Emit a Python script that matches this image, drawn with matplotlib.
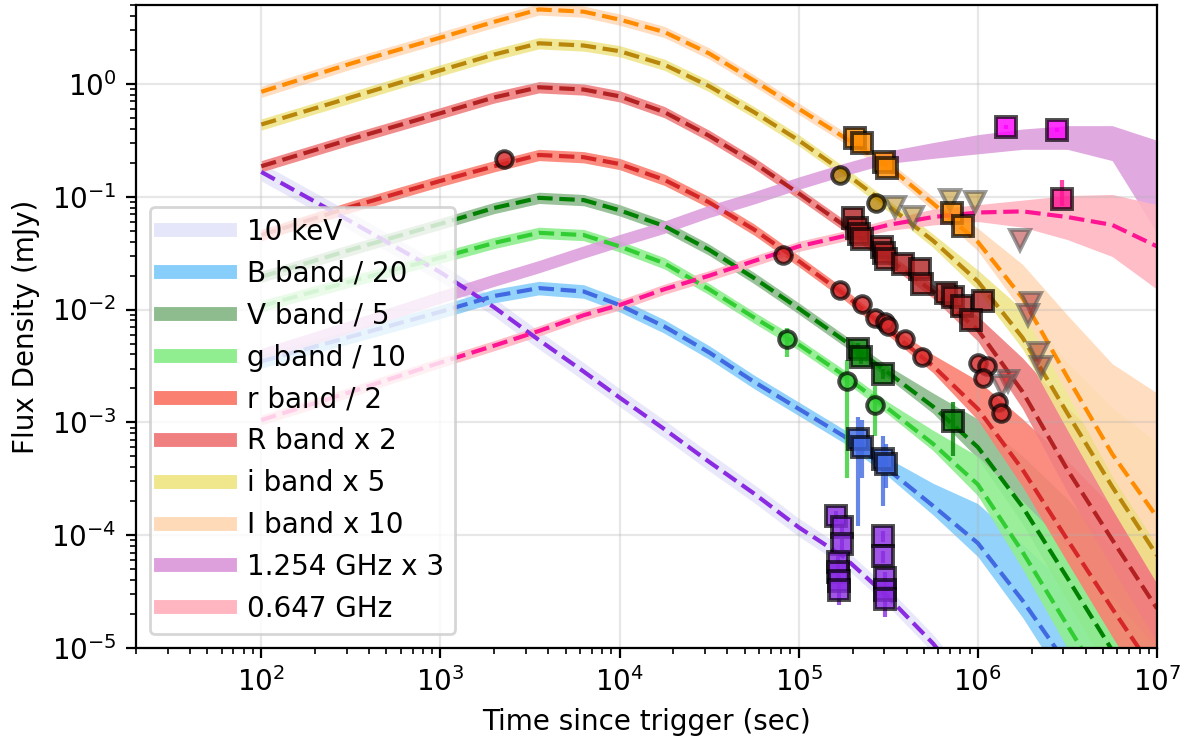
import numpy as np
import matplotlib
matplotlib.use('Agg')
import matplotlib.pyplot as plt
from matplotlib.lines import Line2D

# ---- model curves (log10 time [s], log10 flux [mJy]) ----
log_t = [2.0, 2.5, 3.0, 3.3, 3.55, 3.8, 4.0, 4.25, 4.5, 4.75, 5.0, 5.25, 5.5, 5.75, 6.0, 6.25, 6.5, 6.75, 7.0]
log_t_xray = [2.0, 2.5, 3.0, 3.3, 3.55, 3.8, 4.0, 4.25, 4.5, 4.75, 5.0, 5.25, 5.5, 5.75, 6.0]

xray_med = [-0.78, -1.22, -1.67, -1.98, -2.27, -2.55, -2.78, -3.06, -3.35, -3.63, -3.93, -4.19, -4.55, -4.96, -5.45]
xray_up = [0.08, 0.08, 0.08, 0.08, 0.08, 0.08, 0.08, 0.08, 0.08, 0.08, 0.08, 0.08, 0.08, 0.08, 0.08]
xray_dn = [0.08, 0.08, 0.08, 0.08, 0.08, 0.08, 0.08, 0.08, 0.08, 0.08, 0.08, 0.08, 0.08, 0.08, 0.08]

B_med = [-2.46, -2.24, -2.02, -1.88, -1.81, -1.84, -1.96, -2.15, -2.38, -2.64, -2.88, -3.12, -3.42, -3.74, -4.07, -4.58, -5.15, -5.80, -6.50]
B_up = [0.06, 0.06, 0.06, 0.06, 0.06, 0.06, 0.06, 0.06, 0.06, 0.06, 0.06, 0.06, 0.10, 0.20, 0.35, 0.50, 0.70, 0.90, 1.10]
B_dn = [0.06, 0.06, 0.06, 0.06, 0.06, 0.06, 0.06, 0.06, 0.06, 0.06, 0.06, 0.06, 0.06, 0.08, 0.12, 0.15, 0.20, 0.25, 0.30]

V_med = [-1.71, -1.47, -1.24, -1.10, -1.01, -1.03, -1.12, -1.26, -1.47, -1.72, -1.99, -2.27, -2.56, -2.86, -3.22, -3.75, -4.38, -5.02, -5.70]
V_up = [0.05, 0.05, 0.05, 0.05, 0.05, 0.05, 0.05, 0.05, 0.05, 0.05, 0.05, 0.05, 0.06, 0.12, 0.25, 0.45, 0.70, 0.90, 1.10]
V_dn = [0.05, 0.05, 0.05, 0.05, 0.05, 0.05, 0.05, 0.05, 0.05, 0.05, 0.05, 0.05, 0.05, 0.06, 0.10, 0.15, 0.20, 0.25, 0.30]

g_med = [-1.97, -1.75, -1.54, -1.41, -1.32, -1.34, -1.44, -1.59, -1.82, -2.07, -2.31, -2.58, -2.88, -3.19, -3.55, -4.15, -4.80, -5.45, -6.10]
g_up = [0.05, 0.05, 0.05, 0.05, 0.05, 0.05, 0.05, 0.05, 0.05, 0.05, 0.05, 0.05, 0.06, 0.12, 0.25, 0.45, 0.70, 0.90, 1.10]
g_dn = [0.05, 0.05, 0.05, 0.05, 0.05, 0.05, 0.05, 0.05, 0.05, 0.05, 0.05, 0.05, 0.05, 0.06, 0.10, 0.15, 0.20, 0.25, 0.30]

r_med = [-1.34, -1.09, -0.86, -0.73, -0.63, -0.65, -0.71, -0.85, -1.05, -1.29, -1.57, -1.86, -2.18, -2.50, -2.88, -3.42, -4.04, -4.65, -5.24]
r_up = [0.05, 0.05, 0.05, 0.05, 0.05, 0.05, 0.05, 0.05, 0.05, 0.05, 0.05, 0.05, 0.05, 0.10, 0.25, 0.45, 0.70, 0.90, 1.10]
r_dn = [0.05, 0.05, 0.05, 0.05, 0.05, 0.05, 0.05, 0.05, 0.05, 0.05, 0.05, 0.05, 0.05, 0.06, 0.10, 0.15, 0.20, 0.25, 0.30]

R_med = [-0.73, -0.49, -0.26, -0.12, -0.03, -0.05, -0.11, -0.25, -0.46, -0.70, -0.97, -1.25, -1.55, -1.84, -2.18, -2.73, -3.42, -4.04, -4.65]
R_up = [0.05, 0.05, 0.05, 0.05, 0.05, 0.05, 0.05, 0.05, 0.05, 0.05, 0.05, 0.05, 0.05, 0.06, 0.12, 0.30, 0.55, 0.80, 1.00]
R_dn = [0.05, 0.05, 0.05, 0.05, 0.05, 0.05, 0.05, 0.05, 0.05, 0.05, 0.05, 0.05, 0.05, 0.06, 0.10, 0.15, 0.20, 0.25, 0.30]

i_med = [-0.36, -0.12, 0.12, 0.26, 0.36, 0.34, 0.29, 0.17, -0.02, -0.25, -0.50, -0.78, -1.08, -1.39, -1.75, -2.25, -2.92, -3.57, -4.18]
i_up = [0.05, 0.05, 0.05, 0.05, 0.05, 0.05, 0.05, 0.05, 0.05, 0.05, 0.05, 0.05, 0.05, 0.06, 0.10, 0.25, 0.45, 0.70, 1.00]
i_dn = [0.05, 0.05, 0.05, 0.05, 0.05, 0.05, 0.05, 0.05, 0.05, 0.05, 0.05, 0.05, 0.05, 0.06, 0.08, 0.10, 0.15, 0.20, 0.25]

I_med = [-0.07, 0.18, 0.41, 0.55, 0.66, 0.64, 0.57, 0.46, 0.27, 0.03, -0.22, -0.47, -0.73, -1.06, -1.40, -1.90, -2.60, -3.28, -3.84]
I_up = [0.05, 0.05, 0.05, 0.05, 0.05, 0.05, 0.05, 0.05, 0.05, 0.05, 0.05, 0.05, 0.05, 0.06, 0.12, 0.30, 0.55, 0.80, 1.10]
I_dn = [0.05, 0.05, 0.05, 0.05, 0.05, 0.05, 0.05, 0.05, 0.05, 0.05, 0.05, 0.05, 0.05, 0.06, 0.08, 0.12, 0.15, 0.20, 0.25]

L_med = [-2.40, -2.15, -1.89, -1.74, -1.62, -1.49, -1.39, -1.27, -1.13, -1.01, -0.88, -0.76, -0.65, -0.58, -0.52, -0.48, -0.45, -0.47, -0.89]
L_up = [0.055, 0.055, 0.055, 0.055, 0.055, 0.055, 0.055, 0.055, 0.055, 0.055, 0.055, 0.055, 0.055, 0.06, 0.07, 0.08, 0.08, 0.10, 0.39]
L_dn = [0.055, 0.055, 0.055, 0.055, 0.055, 0.055, 0.055, 0.055, 0.055, 0.055, 0.055, 0.055, 0.055, 0.08, 0.10, 0.10, 0.13, 0.21, 0.43]

P_med = [-2.98, -2.73, -2.47, -2.32, -2.19, -2.05, -1.96, -1.82, -1.70, -1.57, -1.44, -1.35, -1.25, -1.18, -1.14, -1.13, -1.18, -1.25, -1.44]
P_up = [0.045, 0.045, 0.045, 0.045, 0.045, 0.045, 0.045, 0.045, 0.045, 0.045, 0.045, 0.045, 0.05, 0.07, 0.07, 0.10, 0.19, 0.27, 0.37]
P_dn = [0.045, 0.045, 0.045, 0.045, 0.045, 0.045, 0.045, 0.045, 0.045, 0.045, 0.045, 0.045, 0.05, 0.07, 0.08, 0.14, 0.20, 0.28, 0.38]

# ---- observations (s, mJy) ----
X_t = [1.61e5, 1.75e5, 1.75e5, 1.66e5, 1.66e5, 1.68e5, 1.68e5, 2.96e5, 2.96e5, 3.04e5, 3.04e5, 3.04e5]
X_f = [1.47e-4, 1.18e-4, 8.3e-5, 5.8e-5, 4.7e-5, 3.9e-5, 3.3e-5, 9.8e-5, 6.5e-5, 4.2e-5, 3.3e-5, 2.7e-5]
X_lo = [1.3e-4, 1.05e-4, 7.4e-5, 5.1e-5, 4.1e-5, 3.3e-5, 2.4e-5, 8.7e-5, 5.7e-5, 3.7e-5, 2.9e-5, 1.9e-5]
X_hi = [1.65e-4, 1.32e-4, 9.3e-5, 6.5e-5, 5.3e-5, 4.4e-5, 3.7e-5, 1.1e-4, 7.3e-5, 4.7e-5, 3.7e-5, 3.0e-5]

B_t = [2.14e5, 2.26e5, 2.96e5, 3.08e5]
B_f = [7.1e-4, 6.1e-4, 4.7e-4, 4.3e-4]
B_lo = [1.2e-4, 3.2e-4, 1.8e-4, 2.6e-4]
B_hi = [1.12e-3, 1.05e-3, 7.6e-4, 6.4e-4]

V_t = [2.14e5, 2.23e5, 2.96e5, 7.3e5]
V_f = [4.43e-3, 3.76e-3, 2.66e-3, 1.02e-3]
V_lo = [3.8e-3, 3.3e-3, 2.4e-3, 5.0e-4]
V_hi = [5.1e-3, 4.3e-3, 3.0e-3, 1.53e-3]

g_t = [8.6e4, 1.86e5, 2.67e5]
g_f = [5.43e-3, 2.35e-3, 1.44e-3]
g_lo = [3.8e-3, 3.2e-4, 7.6e-4]
g_hi = [6.9e-3, 3.6e-3, 2.1e-3]

r_t = [2.26e3, 8.2e4, 1.70e5, 2.26e5, 2.67e5, 3.04e5, 3.16e5, 3.94e5, 4.9e5, 9.96e5, 1.13e6, 1.07e6, 1.29e6, 1.34e6]
r_f = [0.217, 0.0307, 0.0150, 0.0111, 0.0085, 0.0078, 0.0071, 0.0055, 0.00376, 0.00333, 0.00319, 0.00245, 0.00153, 0.00122]
r_ul_t = [1.48e6, 1.37e6]
r_ul_f = [0.00231, 0.00208]

R_t = [2.01e5, 2.12e5, 2.17e5, 2.26e5, 2.92e5, 3.0e5, 3.08e5, 3.83e5, 4.77e5, 4.9e5, 6.6e5, 7.3e5, 8.2e5, 1.07e6, 9.1e5]
R_f = [0.0652, 0.0532, 0.0471, 0.0425, 0.0361, 0.0319, 0.0283, 0.0255, 0.0231, 0.0170, 0.0141, 0.0130, 0.0108, 0.0118, 0.0080]
R_ul_t = [1.73e6, 1.97e6, 1.9e6, 2.16e6, 2.24e6]
R_ul_f = [0.0416, 0.0115, 0.0090, 0.00416, 0.00307]

i_t = [1.7e5, 2.7e5]
i_f = [0.157, 0.0885]
i_ul_t = [3.46e5, 4.36e5, 7.0e5, 9.7e5]
i_ul_f = [0.0816, 0.0665, 0.094, 0.090]

I_t = [2.07e5, 2.26e5, 3.0e5, 3.12e5, 7.2e5, 8.3e5]
I_f = [0.333, 0.30, 0.204, 0.181, 0.072, 0.055]

L_t = [1.43e6, 2.75e6]
L_f = [0.416, 0.392]
L_lo = [0.40, 0.375]
L_hi = [0.43, 0.41]

P_t = [2.94e6]
P_f = [0.096]
P_lo = [0.082]
P_hi = [0.141]

labels = ['10 keV', 'B band / 20', 'V band / 5', 'g band / 10', 'r band / 2',
          'R band x 2', 'i band x 5', 'I band x 10', '1.254 GHz x 3', '0.647 GHz']
band_colors = ['lavender', 'lightskyblue', 'darkseagreen', 'lightgreen', 'salmon',
               'lightcoral', 'khaki', 'peachpuff', 'plum', 'lightpink']
line_colors = ['blueviolet', 'royalblue', 'green', 'limegreen', '#d62728',
               'firebrick', 'darkgoldenrod', 'darkorange', None, 'deeppink']

models = [
    (log_t_xray, xray_med, xray_up, xray_dn),
    (log_t, B_med, B_up, B_dn),
    (log_t, V_med, V_up, V_dn),
    (log_t, g_med, g_up, g_dn),
    (log_t, r_med, r_up, r_dn),
    (log_t, R_med, R_up, R_dn),
    (log_t, i_med, i_up, i_dn),
    (log_t, I_med, I_up, I_dn),
    (log_t, L_med, L_up, L_dn),
    (log_t, P_med, P_up, P_dn),
]

fig = plt.figure(figsize=(5.94, 3.70), dpi=200)
ax = fig.add_axes([0.1145, 0.1243, 0.8594, 0.8689])
ax.set_xscale('log')
ax.set_yscale('log')

# posterior spread of the models
for (lt, med, up, dn), bc in zip(models, band_colors):
    t = np.power(10.0, lt)
    m = np.array(med)
    ax.fill_between(t, np.power(10.0, m - np.array(dn)), np.power(10.0, m + np.array(up)),
                    color=bc, alpha=0.9, lw=0, zorder=1)

# median models
for (lt, med, up, dn), lc in zip(models, line_colors):
    if lc is None:
        continue
    ax.plot(np.power(10.0, lt), np.power(10.0, med), '--', color=lc, lw=1.5, zorder=2)


def points(t, f, color, marker, lo=None, hi=None, ms=6.0):
    f = np.array(f)
    yerr = None
    if lo is not None:
        yerr = [f - np.array(lo), np.array(hi) - f]
    ax.errorbar(t, f, yerr=yerr, fmt=marker, ms=ms, mfc=matplotlib.colors.to_rgba(color, 0.8),
                mec=(0, 0, 0, 0.7), mew=1.4, ecolor=matplotlib.colors.to_rgba(color, 0.8),
                elinewidth=1.5, capsize=0, zorder=4)


def limits(t, f, color):
    ax.plot(t, f, 'v', ms=7, mfc=matplotlib.colors.to_rgba(color, 0.5),
            mec=(0.35, 0.35, 0.35, 0.6), mew=1.4, ls='none', zorder=4)


points(X_t, X_f, 'blueviolet', 's', X_lo, X_hi, ms=7)
points(B_t, B_f, 'royalblue', 's', B_lo, B_hi, ms=7)
points(V_t, V_f, 'green', 's', V_lo, V_hi, ms=7)
points(g_t, g_f, 'limegreen', 'o', g_lo, g_hi)
points(r_t, r_f, '#d62728', 'o')
points(R_t, R_f, 'firebrick', 's', ms=7)
points(i_t, i_f, 'darkgoldenrod', 'o')
points(I_t, I_f, 'darkorange', 's', ms=7)
points(L_t, L_f, 'magenta', 's', L_lo, L_hi, ms=7)
points(P_t, P_f, 'deeppink', 's', P_lo, P_hi, ms=7)
limits(i_ul_t, i_ul_f, 'darkgoldenrod')
limits(R_ul_t, R_ul_f, 'firebrick')
limits(r_ul_t, r_ul_f, '#d62728')

ax.set_xlim(20, 1e7)
ax.set_ylim(1e-5, 5)
ax.grid(True, which='major', alpha=0.3)
ax.set_xlabel('Time since trigger (sec)', fontsize=10)
ax.set_ylabel('Flux Density (mJy)', fontsize=10)
ax.tick_params(labelsize=10)

handles = [Line2D([], [], color=c, lw=5) for c in band_colors]
leg = ax.legend(handles, labels, loc='lower left', fontsize=10, handlelength=2.5,
                handletextpad=0.6)
leg.set_zorder(10)

fig.savefig('out.png', dpi=200)
